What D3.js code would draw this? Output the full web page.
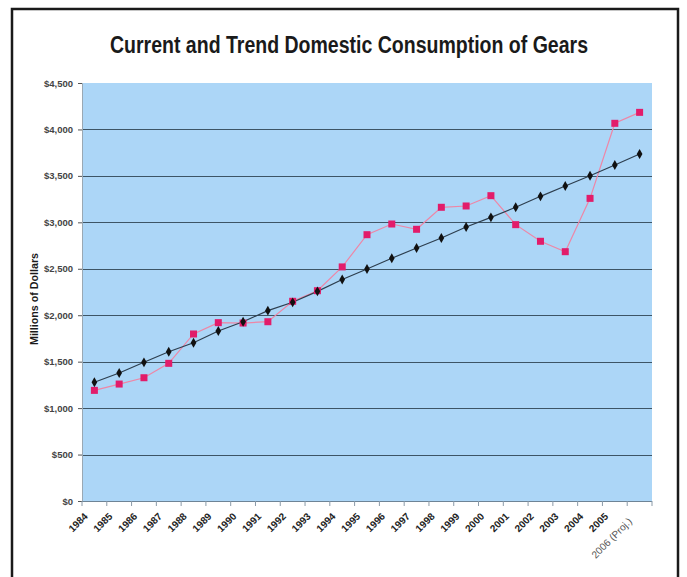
<!DOCTYPE html>
<html><head><meta charset="utf-8">
<script src="https://cdn.jsdelivr.net/npm/d3@7"></script>
<style>html,body{margin:0;padding:0;background:#fff;}svg{display:block;}</style>
</head><body>
<script>
const years = ["1984","1985","1986","1987","1988","1989","1990","1991","1992","1993","1994","1995","1996","1997","1998","1999","2000","2001","2002","2003","2004","2005","2006 (Proj.)"];
const currentValues = [1191,1259,1327,1482,1798,1920,1916,1930,2150,2264,2520,2867,2982,2925,3162,3176,3287,2975,2796,2684,3258,4066,4184];
const trendValues = [1278,1378,1493,1607,1704,1830,1930,2049,2139,2257,2385,2498,2613,2724,2831,2950,3054,3162,3280,3391,3502,3617,3736];
const yTicks = [0,500,1000,1500,2000,2500,3000,3500,4000,4500];
const title = "Current and Trend Domestic Consumption of Gears";
const yTitle = "Millions of Dollars";

const W = 687, H = 577;
const plot = {left: 82, right: 652, top: 83, bottom: 501};
const svg = d3.select("body").append("svg").attr("width", W).attr("height", H);

// frame
svg.append("rect").attr("x",12).attr("y",9).attr("width",666).attr("height",H+20)
  .attr("fill","#fff").attr("stroke","#1a1a1a").attr("stroke-width",2.5);

svg.append("text").attr("x",349).attr("y",53).attr("text-anchor","middle")
  .attr("font-family","'Liberation Sans Narrow','Arial Narrow','Liberation Sans',Arial,sans-serif")
  .attr("font-weight","bold").attr("font-size",23).attr("fill","#1a1a1a")
  .attr("textLength",478).attr("lengthAdjust","spacingAndGlyphs").text(title);

const x = d3.scaleBand().domain(years).range([plot.left, plot.right]);
const y = d3.scaleLinear().domain([0,4500]).range([plot.bottom, plot.top]);
const cx = d => x(d) + x.bandwidth()/2;

svg.append("rect").attr("x",plot.left).attr("y",plot.top)
  .attr("width",plot.right-plot.left).attr("height",plot.bottom-plot.top)
  .attr("fill","#acd6f7");

// gridlines
svg.append("g").selectAll("line").data(yTicks.filter(v=>v>0&&v<4500)).join("line")
  .attr("x1",plot.left).attr("x2",plot.right)
  .attr("y1",d=>Math.round(y(d))+0.5).attr("y2",d=>Math.round(y(d))+0.5)
  .attr("stroke","#3d5566").attr("stroke-width",1.2);

// y axis
const yAxis = svg.append("g").attr("transform",`translate(${plot.left},0)`)
  .call(d3.axisLeft(y).tickValues(yTicks).tickSize(4).tickFormat(d=>"$"+d3.format(",")(d)));
yAxis.select(".domain").attr("stroke","#9aa8b3");
yAxis.selectAll(".tick line").attr("stroke","#555");
yAxis.selectAll("text").attr("font-family","'Liberation Sans Narrow','Liberation Sans',Arial,sans-serif")
  .attr("font-size",9.5).attr("font-weight","bold").attr("fill","#444").attr("x",-9);

svg.append("text").attr("transform","translate(38,299) rotate(-90)").attr("text-anchor","middle")
  .attr("font-family","'Liberation Sans',Arial,sans-serif").attr("font-weight","bold")
  .attr("font-size",10).attr("fill","#1a1a1a")
  .attr("textLength",92).attr("lengthAdjust","spacingAndGlyphs").text(yTitle);

// x axis
svg.append("line").attr("x1",plot.left).attr("x2",plot.right).attr("y1",plot.bottom+0.5).attr("y2",plot.bottom+0.5)
  .attr("stroke","#6e8496").attr("stroke-width",1);
svg.append("g").selectAll("line").data(years.concat(["__end"])).join("line")
  .attr("x1",(d,i)=>plot.left + i*x.step()).attr("x2",(d,i)=>plot.left + i*x.step())
  .attr("y1",plot.bottom).attr("y2",plot.bottom+5).attr("stroke","#8a9aa8");
svg.append("g").selectAll("text").data(years).join("text")
  .attr("transform",(d,i)=> i===years.length-1 ? `translate(${cx(d)-7},${plot.bottom+21}) rotate(-45)` : `translate(${cx(d)-6},${plot.bottom+16}) rotate(-45)`)
  .attr("text-anchor","end")
  .attr("font-family","'Liberation Sans Narrow','Liberation Sans',Arial,sans-serif")
  .attr("font-size",10)
  .attr("font-weight",(d,i)=> i===years.length-1 ? "normal" : "bold")
  .attr("fill",(d,i)=> i===years.length-1 ? "#555" : "#222")
  .text(d=>d);

// lines
const line = d3.line().x((d,i)=>cx(years[i])).y(d=>y(d));
svg.append("path").datum(currentValues).attr("d",line).attr("fill","none")
  .attr("stroke","#ee86a6").attr("stroke-width",1.2);
svg.append("path").datum(trendValues).attr("d",line).attr("fill","none")
  .attr("stroke","#2d3e4e").attr("stroke-width",1.2);

// markers
svg.append("g").selectAll("rect").data(currentValues).join("rect")
  .attr("x",(d,i)=>cx(years[i])-3.5).attr("y",d=>y(d)-3.5).attr("width",7).attr("height",7)
  .attr("fill","#e21c6a");
svg.append("g").selectAll("path").data(trendValues).join("path")
  .attr("transform",(d,i)=>`translate(${cx(years[i])},${y(d)})`)
  .attr("d",d3.symbol().type(d3.symbolDiamond).size(28)).attr("fill","#111");
</script>
</body></html>
